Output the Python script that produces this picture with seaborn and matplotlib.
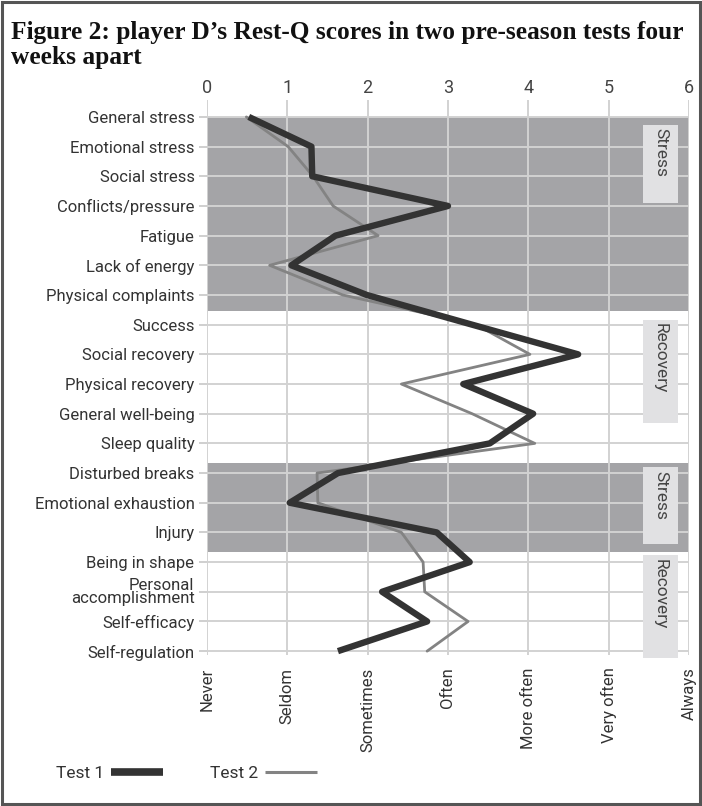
import numpy as np
import pandas as pd
import matplotlib.pyplot as plt
import seaborn as sns
from matplotlib.patches import Rectangle
from matplotlib.lines import Line2D

sns.set_theme(style='white')
plt.rcParams['font.family'] = ['Roboto', 'DejaVu Sans']

# Rest-Q items, top to bottom
items = ['General stress', 'Emotional stress', 'Social stress', 'Conflicts/pressure',
         'Fatigue', 'Lack of energy', 'Physical complaints', 'Success',
         'Social recovery', 'Physical recovery', 'General well-being', 'Sleep quality',
         'Disturbed breaks', 'Emotional exhaustion', 'Injury', 'Being in shape',
         'Personal\naccomplishment', 'Self-efficacy', 'Self-regulation']
test1 = [0.52, 1.30, 1.31, 3.00, 1.60, 1.05, 1.99, 3.30, 4.62, 3.19, 4.06, 3.52,
         1.63, 1.03, 2.86, 3.27, 2.18, 2.74, 1.63]
test2 = [0.49, 1.01, 1.32, 1.57, 2.13, 0.78, 1.69, 3.35, 4.02, 2.42, 3.30, 4.08,
         1.37, 1.38, 2.42, 2.69, 2.71, 3.25, 2.74]
scale_labels = ['Never', 'Seldom', 'Sometimes', 'Often', 'More often', 'Very often', 'Always']
# shaded stress bands (row index ranges) and side labels
bands = [(0.0, 6.55), (11.65, 14.65)]
side_labels = [('Stress', 0.27, 2.90), ('Recovery', 6.84, 10.31),
               ('Stress', 11.80, 14.39), ('Recovery', 14.76, 18.23)]

df = pd.DataFrame({
    'row': list(range(len(items))) * 2,
    'score': test1 + test2,
    'test': ['Test 1'] * len(items) + ['Test 2'] * len(items),
})

dark = '#333333'
grey = '#838383'

fig = plt.figure(figsize=(7.02, 8.06), dpi=100)
ax = fig.add_axes([207 / 702, 1 - 655 / 806, (689 - 207) / 702, (655 - 100) / 806])

for y0, y1 in bands:
    ax.add_patch(Rectangle((0, y0), 6, y1 - y0, color='#a4a4a7', zorder=0.1, lw=0))

sns.lineplot(data=df[df.test == 'Test 2'], x='score', y='row', orient='y', sort=False,
             color=grey, lw=2.0, ax=ax, zorder=2)
sns.lineplot(data=df[df.test == 'Test 1'], x='score', y='row', orient='y', sort=False,
             color=dark, lw=4.6, ax=ax, zorder=3, solid_capstyle='butt')

ax.set_xlim(0, 6)
ax.set_ylim(18.13, -0.57)
ax.set_axisbelow(True)
ax.grid(True, color='#d2d2d2', lw=1.4)
for s in ax.spines.values():
    s.set_visible(False)

ax.set_yticks(range(len(items)))
ax.set_yticklabels(items, fontsize=12, color='#333333', linespacing=0.85)
ax.tick_params(axis='y', left=True, length=6, width=1.3, color='#cccccc', pad=3)

ax.set_xticks(range(7))
ax.set_xticklabels(scale_labels, rotation=90, fontsize=12, color='#333333', va='top')
ax.tick_params(axis='x', bottom=False, pad=3)
top = ax.secondary_xaxis('top')
top.set_xticks(range(7))
top.set_xticklabels([str(i) for i in range(7)], fontsize=13, color='#444444')
top.tick_params(length=0, pad=2)
for s in top.spines.values():
    s.set_visible(False)
ax.set_xlabel('')
ax.set_ylabel('')

for text, y0, y1 in side_labels:
    ax.add_patch(Rectangle((5.43, y0), 0.43, y1 - y0, color='#e1e1e3', lw=0,
                           zorder=4, clip_on=False))
    ax.text(5.645, y0 + 0.12, text, rotation=270, rotation_mode='anchor',
            ha='left', va='center', fontsize=12.5, color='#444444', zorder=5,
            clip_on=False)

fig.text(0.016, 0.974, 'Figure 2: player D\u2019s Rest-Q scores in two pre-season tests four\nweeks apart',
         family='Liberation Serif', weight='bold', fontsize=18.3, va='top', ha='left',
         linespacing=1.1, color='#111111')

handles = [Line2D([], [], color=dark, lw=5.5, solid_capstyle='butt'),
           Line2D([], [], color=grey, lw=2.2, solid_capstyle='butt')]
fig.legend(handles, ['Test 1', 'Test 2'], loc='center left', ncol=2,
           bbox_to_anchor=(56 / 702, 1 - 773 / 806), frameon=False, markerfirst=False,
           handlelength=3.0, handletextpad=0.4, columnspacing=2.7, borderpad=0,
           borderaxespad=0, fontsize=12.5, labelcolor='#333333')

fig.add_artist(Rectangle((0.003, 0.003), 0.994, 0.994, transform=fig.transFigure,
                         fill=False, ec='#555555', lw=2.2))

fig.savefig('out.png', dpi=100)
